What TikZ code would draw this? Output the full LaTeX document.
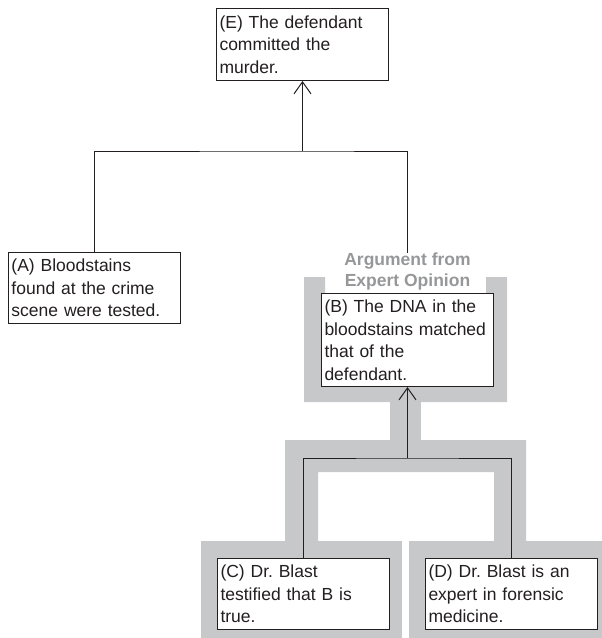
\documentclass[tikz,border=0pt]{standalone}
\usepackage{fontspec}
\setmainfont{Liberation Sans}
\usepackage{tikz}
\usetikzlibrary{arrows.meta}
\frenchspacing
\definecolor{bandgray}{RGB}{199,200,202}
\definecolor{labelgray}{RGB}{150,151,153}
\definecolor{ink}{RGB}{35,31,32}
\tikzset{
	claim/.style={draw=ink, text=ink, line width=1pt, fill=white, anchor=north west,
		align=left, text width=166pt, inner xsep=3pt, inner ysep=0pt, minimum height=71pt,
		font=\fontsize{17.5}{22.5}\selectfont},
	link/.style={draw=ink, line width=1pt},
	>={Straight Barb[length=12pt,width=17pt]}
}

\begin{document}
\begin{tikzpicture}[x=1pt,y=-1pt]
	\useasboundingbox (0,0) rectangle (602,638);
	\fill[bandgray] (304,277) -- (325,277) -- (325,293) -- (486,293) -- (486,277) -- (507,277) -- (507,402) -- (304,402) -- cycle;
	\fill[bandgray] (390,402) rectangle (421,440);
	\fill[bandgray] (285,440) -- (526,440) -- (526,541) -- (494,541) -- (494,472) -- (318,472) -- (318,541) -- (285,541) -- cycle;
	\fill[bandgray] (201,541) rectangle (402,638);
	\fill[bandgray] (409,541) rectangle (602,638);

	\node[claim, minimum height=72pt] (E) at (216,8) {(E) The defendant\\committed the\\murder.};
	\node[claim] (A) at (8,252) {(A) Bloodstains\\found at the crime\\scene were tested.};
	\node[claim, minimum height=93pt] (B) at (321,293) {(B) The DNA in the\\bloodstains matched\\that of the\\defendant.};
	\node[claim] (C) at (217,558) {(C) Dr. Blast\\testified that B is\\true.};
	\node[claim] (D) at (425,558) {(D) Dr. Blast is an\\expert in forensic\\medicine.};
	\node[above=3pt, inner sep=0pt, align=center, text=labelgray,
		font=\bfseries\fontsize{17.5}{20.5}\selectfont] (scheme) at (B.north) {Argument from\\Expert Opinion};

	\coordinate (top) at ([yshift=-70pt]E.south);
	\draw[link] (A.north) |- (top) -| (scheme.north);
	\draw[link,->] (top) -- (E.south);
	\coordinate (fork) at ([yshift=-71pt]B.south);
	\draw[link] (C.north) |- (fork) -| (D.north);
	\draw[link,->] (fork) -- (B.south);
\end{tikzpicture}
\end{document}
